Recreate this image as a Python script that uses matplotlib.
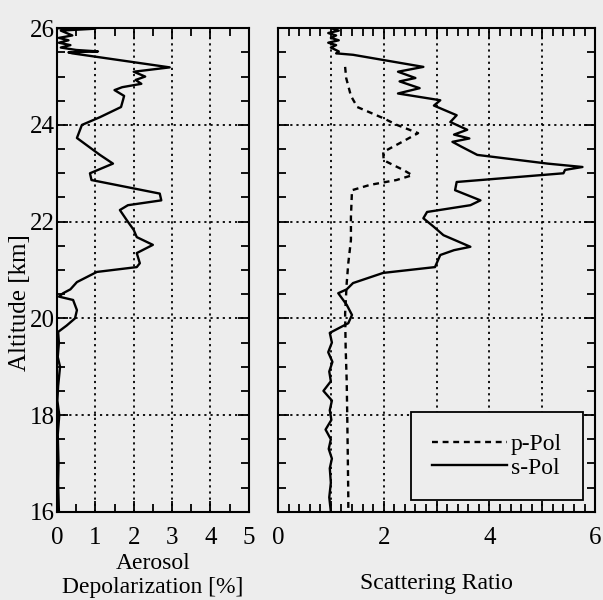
import matplotlib
matplotlib.use('Agg')
import matplotlib.pyplot as plt
from matplotlib.ticker import MultipleLocator

plt.rcParams['font.family'] = ['Liberation Serif', 'DejaVu Serif']

# left panel: aerosol depolarization [%] vs altitude [km]
alt_d = [26.0, 25.99, 25.95, 25.85, 25.8, 25.75, 25.7, 25.65, 25.6, 25.55, 25.52, 25.5, 25.48,
         25.19, 25.1, 25.0, 24.93, 24.85, 24.78, 24.72, 24.6, 24.51, 24.37, 24.16, 24.0,
         23.73, 23.38, 23.2, 23.0, 22.86, 22.58, 22.44, 22.34, 22.24, 22.03, 21.83, 21.68,
         21.52, 21.35, 21.14, 21.06, 20.96, 20.75, 20.6, 20.52, 20.45, 20.38, 20.17, 20.0,
         19.85, 19.72, 19.5, 19.2, 19.0, 18.6, 18.3, 18.0, 17.6, 17.0, 16.6, 16.0]
depol = [0.0, 1.0, 0.1, 0.4, 0.05, 0.3, 0.05, 0.35, 0.1, 0.5, 1.07, 0.3, 0.4,
         2.94, 2.0, 2.3, 2.05, 2.2, 1.7, 1.5, 1.75, 1.72, 1.67, 1.12, 0.65,
         0.52, 1.12, 1.46, 0.86, 0.9, 2.68, 2.72, 1.85, 1.64, 1.82, 2.0, 2.08,
         2.5, 2.08, 2.16, 2.08, 1.04, 0.52, 0.35, 0.16, 0.05, 0.42, 0.52, 0.47,
         0.25, 0.03, 0.05, 0.02, 0.08, 0.03, 0.01, 0.06, 0.02, 0.04, 0.03, 0.05]

# right panel: scattering ratio, s-Pol (solid) and p-Pol (dashed)
alt_s = [26.0, 25.95, 25.9, 25.85, 25.8, 25.75, 25.7, 25.65, 25.6, 25.52, 25.48, 25.45, 25.2,
         25.1, 24.97, 24.9, 24.76, 24.65, 24.51, 24.4, 24.2, 24.06, 23.9, 23.8, 23.72,
         23.65, 23.55, 23.38, 23.2, 23.13, 23.07, 23.0, 22.82, 22.65, 22.44, 22.34, 22.2,
         22.07, 21.9, 21.72, 21.48, 21.41, 21.31, 21.06, 20.94, 20.73, 20.6, 20.52, 20.28,
         20.07, 19.9, 19.7, 19.5, 19.3, 19.1, 18.9, 18.7, 18.5, 18.3, 18.1, 17.9,
         17.7, 17.5, 17.3, 17.1, 16.9, 16.6, 16.3, 16.0]
s_pol = [1.0, 1.15, 0.95, 1.1, 1.0, 1.15, 0.95, 1.1, 1.0, 1.15, 1.1, 1.42, 2.75,
         2.27, 2.6, 2.3, 2.68, 2.27, 3.07, 2.95, 3.38, 3.26, 3.58, 3.33, 3.62,
         3.3, 3.47, 3.77, 5.1, 5.76, 5.43, 5.4, 3.38, 3.35, 3.83, 3.64, 2.82,
         2.75, 2.94, 3.13, 3.64, 3.33, 3.07, 2.97, 1.99, 1.42, 1.3, 1.14, 1.3,
         1.4, 1.33, 0.98, 1.02, 0.95, 1.03, 0.97, 1.0, 0.86, 1.02, 0.98, 1.01,
         0.9, 1.0, 0.96, 1.02, 0.98, 1.0, 0.97, 1.0]

alt_p = [25.2, 24.97, 24.6, 24.37, 24.14, 24.0, 23.83, 23.65, 23.44, 23.27, 23.17,
         23.07, 22.96, 22.86, 22.76, 22.65, 22.1, 21.62, 21.14, 20.73, 20.1, 19.4,
         18.7, 18.0, 17.2, 16.3, 16.0]
p_pol = [1.27, 1.29, 1.38, 1.5, 1.99, 2.25, 2.65, 2.35, 1.99, 2.0, 2.18,
         2.37, 2.54, 2.24, 1.74, 1.4, 1.38, 1.38, 1.33, 1.3, 1.27, 1.28,
         1.3, 1.31, 1.32, 1.33, 1.33]

bg = '#ededed'
fig = plt.figure(figsize=(6.03, 6.0), dpi=100, facecolor=bg)
ax1 = fig.add_axes([0.0945, 0.147, 0.318, 0.806], facecolor=bg)
ax2 = fig.add_axes([0.461, 0.147, 0.526, 0.806], facecolor=bg)

ax1.plot(depol, alt_d, color='black', lw=1.7)
ax2.plot(p_pol, alt_p, color='black', lw=1.7, dashes=(2.5, 2), label='p-Pol')
ax2.plot(s_pol, alt_s, color='black', lw=1.7, label='s-Pol')

for ax in (ax1, ax2):
    ax.set_ylim(16, 26)
    ax.yaxis.set_major_locator(MultipleLocator(2))
    ax.yaxis.set_minor_locator(MultipleLocator(0.5))
    ax.xaxis.set_major_locator(MultipleLocator(1))
    ax.grid(True, which='major', color='black', linestyle=(0, (1.2, 2.2)), lw=1.3)
    ax.tick_params(which='both', direction='in', top=True, right=True,
                   width=1.3, labelsize=18, colors='black')
    ax.tick_params(axis='x', pad=11)
    ax.tick_params(axis='y', pad=1.5)
    ax.tick_params(which='major', length=8)
    ax.tick_params(which='minor', length=6)
    for sp in ax.spines.values():
        sp.set_linewidth(1.5)

ax1.set_xlim(0, 5)
ax1.xaxis.set_minor_locator(MultipleLocator(0.5))
ax1.set_xticks([0, 1, 2, 3, 4, 5])

ax2.set_xlim(0, 6)
ax2.xaxis.set_minor_locator(MultipleLocator(0.2))
ax2.set_xticks([0, 1, 2, 3, 4, 5, 6])
ax2.set_xticklabels(['0', '', '2', '', '4', '', '6'])
ax2.tick_params(axis='y', labelleft=False)

ax1.set_xlabel('Aerosol\nDepolarization [%]', fontsize=17, labelpad=3, linespacing=1.2)
ax2.set_xlabel('Scattering Ratio', fontsize=17, labelpad=17)
fig.text(0.033, 0.495, 'Altitude [km]', rotation=90, fontsize=18,
         ha='center', va='center')

leg = ax2.legend(loc='lower right', fontsize=17, frameon=True, fancybox=False,
                 edgecolor='black', facecolor=bg, framealpha=1, handlelength=3.2,
                 handletextpad=0.15, borderpad=0.9, labelspacing=0.1,
                 borderaxespad=0.5)
leg.get_frame().set_linewidth(1.3)

fig.savefig('out.png', dpi=100, facecolor=bg)
